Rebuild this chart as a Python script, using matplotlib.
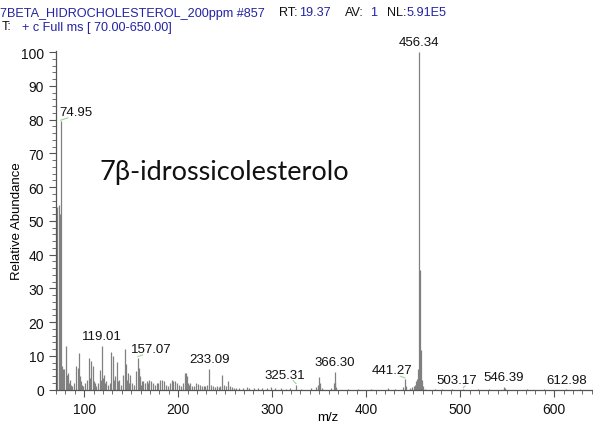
import matplotlib
matplotlib.use('Agg')
import matplotlib.pyplot as plt
from matplotlib.ticker import MultipleLocator

plt.rcParams['font.family'] = ['Liberation Sans', 'DejaVu Sans']

# peak list (m/z, relative abundance)
mz = [71.6, 72.9, 73.9, 74.95, 76.0, 77.0, 78.0, 79.0, 80.9, 82.0, 83.0, 84.0,
      85.0, 86.0, 87.0, 89.0, 90.9, 92.9, 94.9, 96.0, 97.0, 98.0, 99.0, 101.0,
      103.0, 104.9, 105.9, 106.9, 108.9, 110.0, 111.0, 113.0, 115.0, 116.9,
      118.0, 119.01, 120.0, 121.0, 122.0, 123.0, 125.0, 127.0, 128.9, 130.9,
      131.9, 133.0, 134.9, 136.0, 137.0, 139.0, 141.0, 142.9, 144.9, 145.9,
      146.9, 148.0, 149.0, 151.0, 152.9, 155.0, 157.07, 158.0, 159.0, 160.0,
      161.0, 163.0, 165.0, 167.0, 168.0, 169.0, 171.0, 173.0, 175.0, 177.0,
      179.0, 181.0, 183.0, 185.0, 187.0, 189.0, 191.0, 193.0, 195.0, 197.0,
      199.0, 201.0, 203.0, 205.0, 207.0, 208.0, 209.0, 210.0, 211.0, 213.0,
      215.0, 217.0, 219.0, 221.0, 223.0, 225.0, 227.0, 229.0, 231.0, 233.09,
      235.0, 237.0, 239.0, 241.0, 243.0, 245.0, 247.0, 249.0, 251.0, 253.0,
      255.0, 257.0, 259.0, 261.0, 265.0, 269.0, 273.0, 275.0, 281.0, 285.0,
      289.0, 295.0, 299.0, 303.0, 309.0, 315.0, 319.0, 325.31, 331.0, 341.0,
      347.0, 349.0, 350.3, 351.3, 353.0, 363.0, 365.3, 366.30, 367.3, 368.3,
      381.0, 391.0, 405.0, 423.0, 431.0, 439.0, 441.27, 442.3, 447.0, 449.0,
      451.0, 452.0, 453.3, 454.3, 455.3, 456.34, 457.34, 458.34, 459.3, 460.3,
      463.0, 473.0, 481.0, 491.0, 503.17, 519.0, 531.0, 546.39, 547.4, 571.0,
      589.0, 612.98, 627.0, 641.0]
abundance = [54.0, 54.6, 52.0, 79.5, 7.0, 6.0, 5.0, 6.0, 12.8, 4.5, 5.0, 2.0,
             3.0, 1.5, 1.0, 2.0, 7.0, 6.5, 10.8, 4.0, 2.5, 1.5, 1.0, 2.0,
             3.0, 9.3, 3.5, 8.5, 7.0, 2.5, 2.0, 1.0, 2.0, 5.8,
             3.0, 13.0, 3.5, 4.5, 2.0, 2.5, 1.5, 2.0, 11.2, 10.0,
             3.0, 4.0, 8.3, 2.5, 3.0, 1.5, 4.5, 12.0, 7.5, 3.0,
             5.0, 2.0, 4.5, 2.0, 1.5, 5.5, 9.5, 6.5, 4.0, 1.5,
             2.5, 2.5, 2.0, 2.5, 2.0, 3.0, 2.5, 2.0, 1.5, 2.0,
             2.0, 3.0, 3.0, 2.5, 1.5, 1.0, 2.0, 3.0, 2.6, 2.5,
             2.0, 1.5, 1.2, 2.0, 5.0, 4.8, 4.2, 2.0, 1.5, 2.0,
             1.0, 1.0, 2.0, 1.8, 1.5, 1.0, 1.2, 1.0, 1.5, 6.2,
             1.5, 1.0, 0.8, 1.0, 0.8, 1.2, 4.5, 1.5, 1.0, 2.5,
             1.0, 0.8, 0.5, 0.6, 0.5, 0.6, 0.8, 0.5, 0.4, 0.5,
             0.4, 0.6, 0.8, 0.4, 0.5, 0.3, 0.5, 1.5, 0.3, 0.5,
             0.8, 1.5, 3.8, 2.0, 0.6, 0.5, 2.0, 5.3, 2.2, 0.8,
             0.3, 0.3, 0.3, 0.4, 0.3, 0.8, 3.2, 1.0, 0.5, 0.8,
             1.0, 1.5, 2.5, 3.2, 6.0, 100.0, 35.5, 11.8, 3.0, 1.0,
             0.3, 0.2, 0.2, 0.2, 0.3, 0.2, 0.2, 0.9, 0.4, 0.2,
             0.2, 0.3, 0.2, 0.2]

# labelled peaks and where their labels sit (offset in m/z, offset in abundance)
label_mz = [74.95, 119.01, 157.07, 233.09, 325.31, 366.30, 441.27, 456.34, 503.17, 546.39, 612.98]
label_dx = [16.7, 0.0, 14.0, 0.0, -12.0, 0.0, -14.0, 0.0, -7.0, 0.0, 0.0]
label_dy = [1.0, 1.2, 0.8, 1.2, 1.2, 1.1, 0.8, 1.2, 0.8, 1.1, 0.9]
leader = [True, False, True, False, True, False, True, False, True, False, False]

fig = plt.figure(figsize=(5.93, 4.27), dpi=100)
ax = fig.add_axes([0.0944, 0.085, 0.9056, 0.794])

ax.vlines(mz, 0, abundance, colors='#808080', linewidth=0.9)

for m, dx, dy, ld in zip(label_mz, label_dx, label_dy, leader):
    h = abundance[mz.index(m)]
    ax.text(m + dx, h + dy, '%.2f' % m, ha='center', va='bottom', fontsize=9.5, color='#111111')
    if ld:
        x1 = m + dx - 9 if dx > 0 else m + dx + 9
        ax.plot([m, x1], [h + 0.3, h + dy], color='#9ad89a', linewidth=0.8)

ax.set_xlim(70, 641.3)
ax.set_ylim(0, 100.4)
ax.xaxis.set_major_locator(MultipleLocator(100))
ax.xaxis.set_minor_locator(MultipleLocator(10))
ax.yaxis.set_major_locator(MultipleLocator(10))
ax.yaxis.set_minor_locator(MultipleLocator(2))
for s in ['top', 'right']:
    ax.spines[s].set_visible(False)
for s in ['left', 'bottom']:
    ax.spines[s].set_color('#555555')
    ax.spines[s].set_linewidth(0.9)
ax.tick_params(which='major', length=5, width=0.8, color='#555555', labelsize=10, labelcolor='#111111')
ax.tick_params(which='minor', length=3, width=0.6, color='#555555')
ax.set_xlabel('m/z', fontsize=9.5)
ax.set_ylabel('Relative Abundance', fontsize=9.5)
ax.xaxis.set_label_coords(0.506, -0.062)
ax.yaxis.set_label_coords(-0.062, 0.5)

ax.text(116.8, 62.4, '7\u03b2-idrossicolesterolo', fontsize=19.5,
        family=['Lato', 'DejaVu Sans'], color='#111111', va='baseline')

# scan header
blue = '#2323a3'
W, H = 593.0, 427.0
header = [
    (0, 13.5, '7BETA_HIDROCHOLESTEROL_200ppm #857', blue),
    (279, 13.5, 'RT:', '#111111'),
    (299, 13.5, '19.37', blue),
    (345, 13.5, 'AV:', '#111111'),
    (370, 13.5, '1', blue),
    (387, 13.5, 'NL:', '#111111'),
    (407, 13.5, '5.91E5', blue),
    (2, 27.5, 'T:', '#111111'),
    (22, 27.5, '+ c Full ms [ 70.00-650.00]', blue),
]
for x, y, t, c in header:
    fig.text(x / W, 1 - y / H, t, fontsize=9.1, color=c, ha='left', va='center')

plt.savefig('out.png', dpi=100)
